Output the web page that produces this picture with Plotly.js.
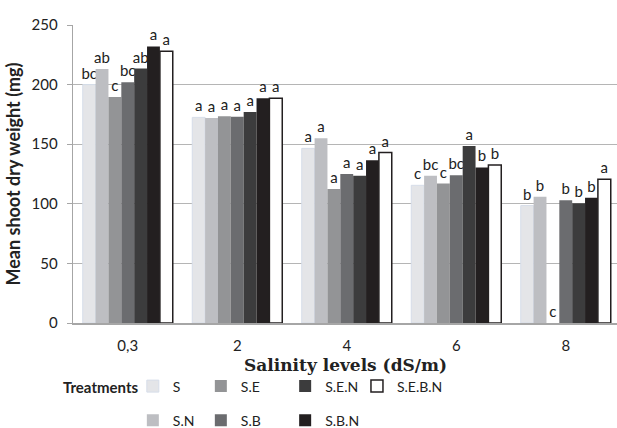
<!DOCTYPE html>
<html>
<head>
<meta charset="utf-8">
<script src="https://cdn.plot.ly/plotly-3.0.1.min.js"></script>
<style>html,body{margin:0;padding:0;background:#fff;}#chart{width:617px;height:428px;}</style>
</head>
<body>
<div id="chart"></div>
<script>
const categories = ['0,3', '2', '4', '6', '8'];
const seriesNames = ['S', 'S.N', 'S.E', 'S.B', 'S.E.N', 'S.B.N', 'S.E.B.N'];
const valS    = [200, 172.5, 146.5, 115.5, 98.5];
const valSN   = [213, 172, 155, 123.5, 106];
const valSE   = [189.5, 173.5, 112.5, 117, 0];
const valSB   = [202, 173, 125, 124, 103];
const valSEN  = [213.5, 177, 123.5, 148.5, 100.5];
const valSBN  = [232, 188.5, 136.5, 130.5, 105];
const valSEBN = [228, 188.5, 143, 132.5, 120.5];
const lblS    = ['bc', 'a', 'a', 'c', 'b'];
const lblSN   = ['ab', 'a', 'a', 'bc', 'b'];
const lblSE   = ['c', 'a', 'a', 'c', 'c'];
const lblSB   = ['bc', 'a', 'a', 'bc', 'b'];
const lblSEN  = ['ab', 'a', 'a', 'a', 'b'];
const lblSBN  = ['a', 'a', 'a', 'b', 'b'];
const lblSEBN = ['a', 'a', 'a', 'b', 'a'];
const yTicks = [0, 50, 100, 150, 200, 250];
const xTitle = 'Salinity levels (dS/m)';
const yTitle = 'Mean shoot dry weight (mg)';
const legendTitle = 'Treatments';

const values = [valS, valSN, valSE, valSB, valSEN, valSBN, valSEBN];
const labels = [lblS, lblSN, lblSE, lblSB, lblSEN, lblSBN, lblSEBN];
const fills = ['#e4e5e8', '#bdbec2', '#939496', '#6b6c6f', '#3c3c3d', '#231f20', '#ffffff'];
const lines = ['#d6dde9', '#bdbec2', '#939496', '#6b6c6f', '#3c3c3d', '#231f20', '#231f20'];
const lineW = [1, 0, 0, 0, 0, 0, 1.5];
const legendIds = ['legend', 'legend', 'legend2', 'legend2', 'legend3', 'legend3', 'legend4'];

const FONT = 'Lato, "Open Sans", sans-serif';

const traces = seriesNames.map((n, i) => ({
  type: 'bar',
  name: n,
  x: categories,
  y: values[i],
  text: labels[i],
  textposition: 'outside',
  textangle: 0,
  constraintext: 'none',
  cliponaxis: false,
  textfont: {family: FONT, size: 15, color: '#222'},
  marker: {color: fills[i], line: {color: lines[i], width: lineW[i]}},
  legend: legendIds[i],
  legendgroup: n,
  hoverinfo: 'skip'
}));

const legBase = {
  orientation: 'v', xanchor: 'left', yanchor: 'top',
  xref: 'paper', yref: 'container', y: 0.1343,
  font: {family: FONT, size: 14, color: '#222'},
  bgcolor: 'rgba(0,0,0,0)', tracegroupgap: 13, borderwidth: 0
};

const layout = {
  width: 617, height: 428,
  margin: {l: 73, r: 0, t: 25, b: 105, autoexpand: false},
  paper_bgcolor: '#fff', plot_bgcolor: '#fff',
  barmode: 'group', bargap: 0.178, bargroupgap: 0,
  showlegend: true,
  xaxis: {
    type: 'category',
    range: [-0.5, 4.468],
    showgrid: false, zeroline: false,
    showline: true, linecolor: '#a6a6a6', linewidth: 1.5,
    ticks: '', ticklabelstandoff: 8,
    tickfont: {family: FONT, size: 15, color: '#222'}
  },
  yaxis: {
    range: [0, 250],
    tickvals: yTicks,
    showgrid: true, gridcolor: '#b5b5b5', gridwidth: 1.3,
    zeroline: false,
    showline: true, linecolor: '#a6a6a6', linewidth: 1.3,
    ticks: 'outside', ticklen: 5, tickcolor: '#a6a6a6',
    ticklabelstandoff: 6,
    tickfont: {family: FONT, size: 15, color: '#222'},
    title: {text: yTitle, standoff: 6,
      font: {family: FONT, size: 18, weight: 'bold', color: '#222'}}
  },
  legend:  Object.assign({}, legBase, {x: 0.11}),
  legend2: Object.assign({}, legBase, {x: 0.235}),
  legend3: Object.assign({}, legBase, {x: 0.39}),
  legend4: Object.assign({}, legBase, {x: 0.522}),
  annotations: [{
    xref: 'paper', yref: 'paper', x: 0.5, y: -0.142,
    xanchor: 'center', yanchor: 'middle', showarrow: false,
    text: '<b>' + xTitle + '</b>',
    font: {family: '"DejaVu Serif", serif', size: 17, color: '#222'}
  }, {
    xref: 'paper', yref: 'paper', x: -0.022, y: -0.216,
    xanchor: 'left', yanchor: 'middle', showarrow: false,
    text: '<b>' + legendTitle + '</b>',
    font: {family: FONT, size: 15, color: '#222'}
  }]
};

Plotly.newPlot('chart', traces, layout, {displayModeBar: false, staticPlot: true});
</script>
</body>
</html>
